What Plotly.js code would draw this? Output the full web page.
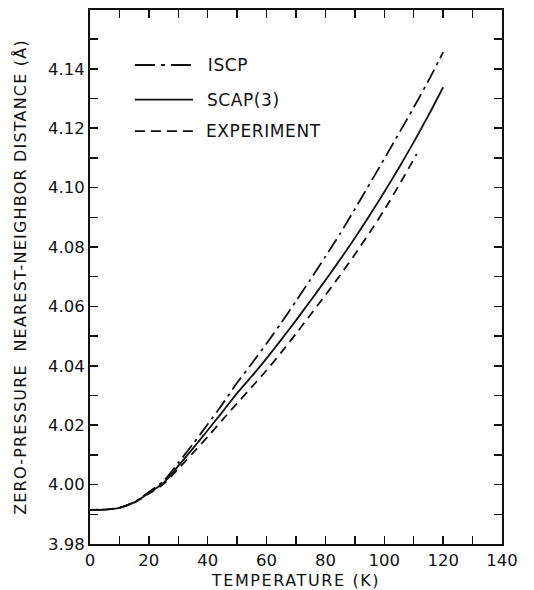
<!DOCTYPE html>
<html>
<head>
<meta charset="utf-8">
<script src="https://cdn.plot.ly/plotly-3.0.1.min.js"></script>
<style>
  html, body { margin: 0; padding: 0; background: #fff; }
  #chart { width: 534px; height: 590px; }
  /* wide, drafted lettering for the axis titles and key */
  #chart text.xtitle { letter-spacing: 1.6px; }
  #chart text.ytitle { letter-spacing: 1.2px; }
  #chart .annotation-text { letter-spacing: 0.6px; }
</style>
</head>
<body>
<div id="chart"></div>
<script>
// Zero-pressure nearest-neighbour distance of solid krypton vs temperature
const seriesNames = ['ISCP', 'SCAP(3)', 'EXPERIMENT'];

const tempIscp = [0, 5, 10, 15, 20, 25, 30, 35, 40, 45, 50, 55, 60, 65, 70, 75, 80, 85, 90, 95, 100, 105, 110, 115, 120];
const distIscp = [3.9915, 3.9916, 3.9922, 3.9941, 3.9975, 4.0012, 4.0073, 4.0137, 4.0203, 4.0271, 4.0343, 4.0408,
                  4.0475, 4.0545, 4.0618, 4.0692, 4.0768, 4.0845, 4.0928, 4.1012, 4.1097, 4.1183, 4.1270, 4.1360, 4.1456];

const tempScap = [0, 5, 10, 15, 20, 25, 30, 35, 40, 45, 50, 55, 60, 65, 70, 75, 80, 85, 90, 95, 100, 105, 110, 115, 120];
const distScap = [3.9915, 3.9916, 3.9922, 3.9940, 3.9972, 4.0006, 4.0063, 4.0122, 4.0183, 4.0245, 4.0308, 4.0365,
                  4.0425, 4.0488, 4.0553, 4.0620, 4.0688, 4.0758, 4.0830, 4.0906, 4.0985, 4.1067, 4.1153, 4.1243, 4.1338];

const tempExp = [0, 5, 10, 15, 20, 25, 30, 35, 40, 45, 50, 55, 60, 65, 70, 75, 80, 85, 90, 95, 100, 105, 110, 111];
const distExp = [3.9915, 3.9916, 3.9922, 3.9939, 3.9969, 4.0002, 4.0053, 4.0107, 4.0161, 4.0218, 4.0274, 4.0329,
                 4.0385, 4.0445, 4.0508, 4.0573, 4.0638, 4.0705, 4.0775, 4.0848, 4.0925, 4.1008, 4.1095, 4.1113];

const xTitle = 'TEMPERATURE (K)';
const yTitle = 'ZERO-PRESSURE  NEAREST-NEIGHBOR DISTANCE (Å)';

const ink = '#111';
const fontFamily = 'DejaVu Sans, sans-serif';

// curve dash patterns and matching (longer) key samples
const curveDash = ['15px,5px,3px,5px', 'solid', '9px,6px'];
const keyDash = ['20px,6px,4px,6px', 'solid', '10px,6px'];

const series = [[tempIscp, distIscp], [tempScap, distScap], [tempExp, distExp]];

const traces = series.map((s, i) => ({
  x: s[0], y: s[1], name: seriesNames[i],
  type: 'scatter', mode: 'lines',
  line: { color: ink, width: 1.8, dash: curveDash[i], shape: 'spline', smoothing: 0.6 },
  showlegend: false, hoverinfo: 'skip'
}));

// key in the upper left of the frame
const keyRowsY = [0.897, 0.832, 0.773];
const shapes = keyRowsY.map((yy, i) => ({
  type: 'line', xref: 'paper', yref: 'paper',
  x0: 0.109, x1: 0.25, y0: yy, y1: yy,
  line: { color: ink, width: 1.8, dash: keyDash[i] }
}));
const annotations = keyRowsY.map((yy, i) => ({
  xref: 'paper', yref: 'paper', x: 0.283, y: yy,
  xanchor: 'left', yanchor: 'middle', showarrow: false,
  text: seriesNames[i],
  font: { family: fontFamily, size: 17, color: ink }
}));

const axisCommon = {
  showline: true, linecolor: ink, linewidth: 2, mirror: 'ticks',
  ticks: 'inside', ticklen: 8, tickwidth: 1.5, tickcolor: ink,
  showgrid: false, zeroline: false,
  tickfont: { family: fontFamily, size: 16.5, color: ink }
};

const layout = {
  width: 534, height: 590,
  margin: { l: 90, r: 32, t: 10, b: 46 },
  paper_bgcolor: '#fff', plot_bgcolor: '#fff',
  xaxis: Object.assign({}, axisCommon, {
    range: [0, 140], tick0: 0, dtick: 20,
    minor: { dtick: 10, ticks: 'inside', ticklen: 8, tickwidth: 1.5, tickcolor: ink },
    title: { text: xTitle, font: { family: fontFamily, size: 16, color: ink }, standoff: 6 }
  }),
  yaxis: Object.assign({}, axisCommon, {
    range: [3.98, 4.1598], tick0: 3.98, dtick: 0.02, tickformat: '.2f',
    minor: { dtick: 0.01, tick0: 3.98, ticks: 'inside', ticklen: 8, tickwidth: 1.5, tickcolor: ink },
    title: { text: yTitle, font: { family: fontFamily, size: 16, color: ink }, standoff: 17 }
  }),
  shapes: shapes,
  annotations: annotations
};

Plotly.newPlot('chart', traces, layout, { displayModeBar: false, staticPlot: true });
</script>
</body>
</html>
